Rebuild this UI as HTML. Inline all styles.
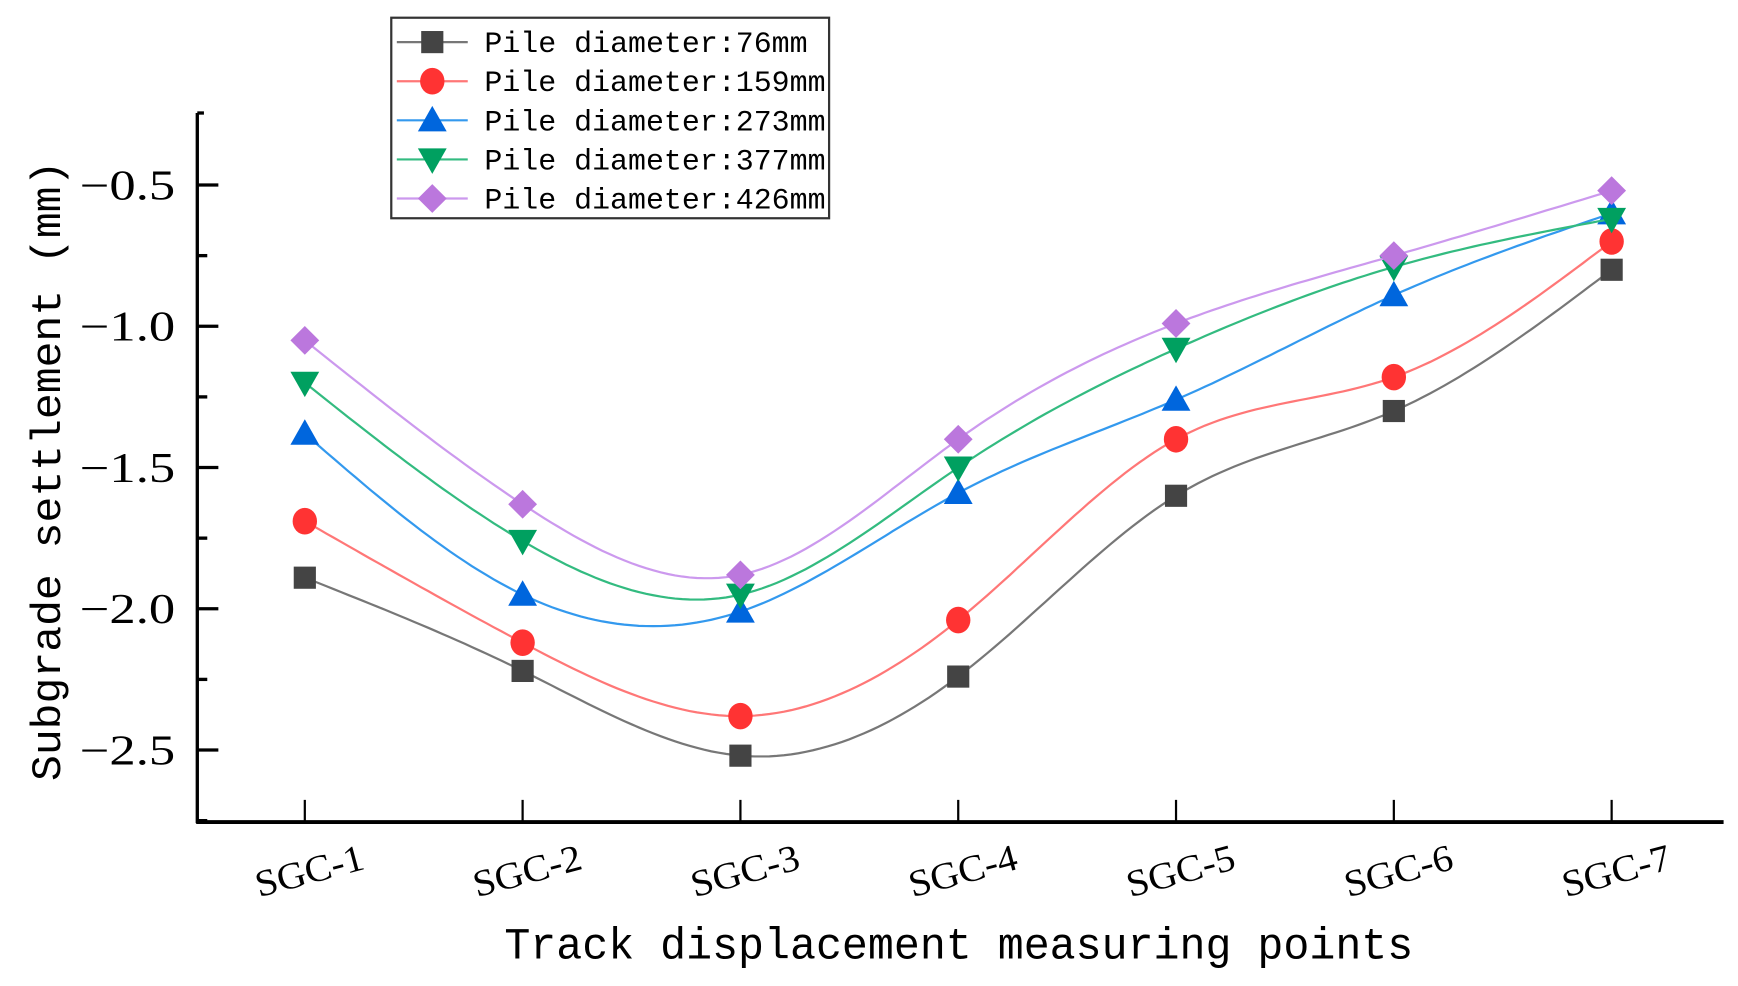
<!DOCTYPE html>
<html><head><meta charset="utf-8"><style>
html,body{margin:0;padding:0;background:#fff;}
svg{display:block;}
</style></head><body>
<svg id="chart" width="1738" height="986" viewBox="0 0 1568 890" preserveAspectRatio="none" xmlns="http://www.w3.org/2000/svg">
<g id="axes"></g>
<g id="series"></g>
<g id="legend"></g>
</svg>
<script>
const categories = ["SGC-1","SGC-2","SGC-3","SGC-4","SGC-5","SGC-6","SGC-7"];
const yTicks = [-0.5,-1.0,-1.5,-2.0,-2.5];
const yTickLabels = ["\u22120.5","\u22121.0","\u22121.5","\u22122.0","\u22122.5"];
const seriesNames = ["Pile diameter:76mm","Pile diameter:159mm","Pile diameter:273mm","Pile diameter:377mm","Pile diameter:426mm"];
const s76  = [-1.89,-2.22,-2.52,-2.24,-1.60,-1.30,-0.80];
const s159 = [-1.69,-2.12,-2.38,-2.04,-1.40,-1.18,-0.70];
const s273 = [-1.38,-1.95,-2.01,-1.59,-1.26,-0.89,-0.60];
const s377 = [-1.20,-1.76,-1.95,-1.50,-1.08,-0.79,-0.62];
const s426 = [-1.05,-1.63,-1.88,-1.40,-0.99,-0.75,-0.52];

const NS="http://www.w3.org/2000/svg";
const X0=178,X1=1555,YT=102,YB=742;
const xs=i=>275+196.5*i;
const ys=v=>167+(-0.5-v)*255;
function mk(tag,attrs,parent){const e=document.createElementNS(NS,tag);for(const k in attrs)e.setAttribute(k,attrs[k]);parent.appendChild(e);return e;}
const axes=document.getElementById('axes');
const yAxis=mk('line',{x1:X0,y1:YT,x2:X0,y2:YB+1,stroke:'#000','stroke-width':3},axes);


const xAxis=mk('line',{x1:X0-1,y1:YB,x2:X1,y2:YB,stroke:'#000','stroke-width':3.5},axes);


mk('line',{x1:X0,y1:YT,x2:X0+6,y2:YT,stroke:'#000','stroke-width':3},axes);
yTicks.forEach((v,i)=>{
  const t=mk('line',{x1:X0,y1:ys(v),x2:X0+19,y2:ys(v),stroke:'#000','stroke-width':3},axes);
  
  
  const m=mk('line',{x1:X0,y1:ys(v-0.25),x2:X0+9,y2:ys(v-0.25),stroke:'#000','stroke-width':3},axes);
  
  
  const l=mk('text',{x:158,y:ys(v)+13,'text-anchor':'end','font-family':'Liberation Serif, serif','font-size':38,fill:'#000',textLength:86,lengthAdjust:'spacingAndGlyphs'},axes);
  l.textContent=yTickLabels[i];
  
  
});
categories.forEach((c,i)=>{
  const t=mk('line',{x1:xs(i),y1:YB,x2:xs(i),y2:YB-20,stroke:'#000','stroke-width':2},axes);
  
  
  const l=mk('text',{x:0,y:0,'text-anchor':'middle','font-family':'Liberation Serif, serif','font-size':34,fill:'#000',textLength:100,lengthAdjust:'spacingAndGlyphs',transform:`translate(${xs(i)+7},${797}) rotate(-15)`},axes);
  l.textContent=c;
  
  
});
const xt=mk('text',{x:865,y:865,'text-anchor':'middle','font-family':'Liberation Mono, monospace','font-size':40,fill:'#000',textLength:820,lengthAdjust:'spacingAndGlyphs'},axes);
xt.textContent='Track displacement measuring points';


const yt=mk('text',{x:0,y:0,'text-anchor':'middle','font-family':'Liberation Mono, "Noto Sans CJK SC", monospace','font-size':38,fill:'#000',textLength:560,lengthAdjust:'spacingAndGlyphs',transform:'translate(54,425) rotate(-90)'},axes);
yt.textContent='Subgrade settlement (mm)';



const colors=['#444444','#ff3333','#0066dd','#00a060','#bb77dd'];
const lineColors=['#777777','#ff7777','#3399ee','#33bb80','#cc99ee'];
const shapes=['square','circle','up','down','diamond'];
const allSeries=[s76,s159,s273,s377,s426];

function marker(shape,x,y,c,parent){
  let e;
  if(shape==='square') e=mk('rect',{x:x-10,y:y-10,width:20,height:20,fill:c},parent);
  else if(shape==='circle') e=mk('ellipse',{cx:x,cy:y,rx:11,ry:12,fill:c},parent);
  else if(shape==='up') e=mk('polygon',{points:`${x},${y-13} ${x-13},${y+10} ${x+13},${y+10}`,fill:c},parent);
  else if(shape==='down') e=mk('polygon',{points:`${x},${y+13} ${x-13},${y-10} ${x+13},${y-10}`,fill:c},parent);
  else e=mk('polygon',{points:`${x},${y-13} ${x+13},${y} ${x},${y+13} ${x-13},${y}`,fill:c},parent);
  return e;
}
function spline(px,py){
  const n=px.length,h=[],a=[],l=[1],mu=[0],z=[0],c=new Array(n).fill(0),b=[],d=[];
  for(let i=0;i<n-1;i++)h.push(px[i+1]-px[i]);
  for(let i=1;i<n-1;i++)a[i]=3/h[i]*(py[i+1]-py[i])-3/h[i-1]*(py[i]-py[i-1]);
  for(let i=1;i<n-1;i++){l[i]=2*(px[i+1]-px[i-1])-h[i-1]*mu[i-1];mu[i]=h[i]/l[i];z[i]=(a[i]-h[i-1]*z[i-1])/l[i];}
  for(let j=n-2;j>=0;j--){c[j]=(j<n-1&&j>0?z[j]-mu[j]*c[j+1]:0);b[j]=(py[j+1]-py[j])/h[j]-h[j]*(c[j+1]+2*c[j])/3;d[j]=(c[j+1]-c[j])/(3*h[j]);}
  let s=`M${px[0]},${py[0]}`;
  for(let j=0;j<n-1;j++)for(let k=1;k<=30;k++){const t=h[j]*k/30;s+=` L${(px[j]+t).toFixed(1)},${(py[j]+b[j]*t+c[j]*t*t+d[j]*t*t*t).toFixed(1)}`;}
  return s;
}
const sg=document.getElementById('series');
allSeries.forEach((vals,si)=>{
  const g=mk('g',{},sg);
  
  
  const px=vals.map((v,i)=>xs(i)),py=vals.map(v=>ys(v));
  const p=mk('path',{d:spline(px,py),fill:'none',stroke:lineColors[si],'stroke-width':2},g);
  
  
  vals.forEach((v,i)=>{
    const m=marker(shapes[si],xs(i),ys(v),colors[si],g);
    
    
  });
});
const lg=document.getElementById('legend');
const box=mk('rect',{x:353,y:16,width:395,height:181,fill:'#fff',stroke:'#333','stroke-width':2},lg);


seriesNames.forEach((nm,i)=>{
  const y=38+35.3*i;
  const g=mk('g',{},lg);
  
  
  mk('line',{x1:358,y1:y,x2:422,y2:y,stroke:lineColors[i],'stroke-width':2},g);
  marker(shapes[i],390,y,colors[i],g);
  const t=mk('text',{x:437,y:y+9,'font-family':'Liberation Mono, monospace','font-size':27,fill:'#000',textLength:nm.length*16.2,lengthAdjust:'spacingAndGlyphs'},g);
  t.textContent=nm;
});
</script>
</body></html>
